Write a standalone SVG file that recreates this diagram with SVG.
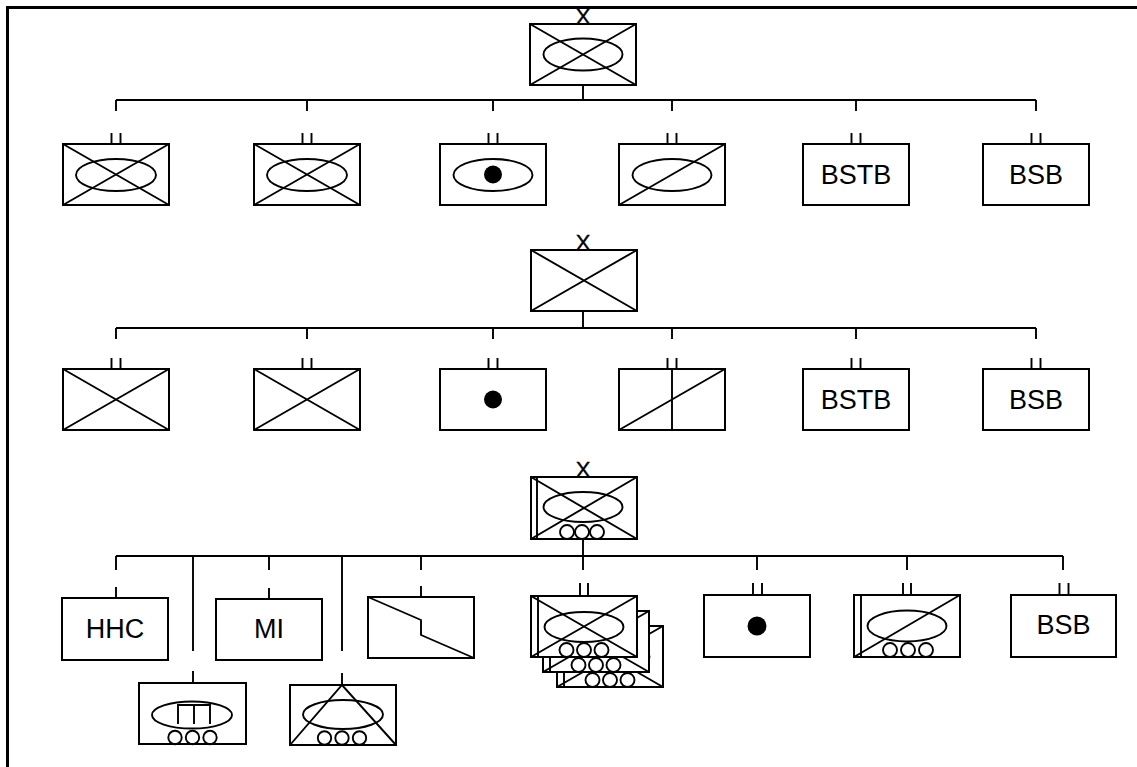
<svg xmlns="http://www.w3.org/2000/svg" width="1137" height="767" viewBox="0 0 1137 767">
<style>
.b{fill:#fff;stroke:#000;stroke-width:2}
.l{fill:none;stroke:#000;stroke-width:1.9}
.c{fill:none;stroke:#000;stroke-width:1.9}
.d{fill:#000}
.t{font-family:"Liberation Sans",Arial,sans-serif;font-size:27px;text-anchor:middle;fill:#000}
.x{font-family:"Liberation Sans",Arial,sans-serif;font-size:22px;text-anchor:middle;fill:#000;stroke:#000;stroke-width:0.4}
</style>
<defs>
<path id="diag" d="M0,0 L106,61 M106,0 L0,61"/>
<g id="arm">
<rect class="b" x="0" y="0" width="106" height="61"/>
<path class="l" d="M7,0 V61"/>
<use href="#diag" class="l"/>
<ellipse class="l" cx="53" cy="31" rx="39.5" ry="15"/>
<circle class="l" cx="35.5" cy="54" r="7"/>
<circle class="l" cx="53" cy="54" r="7"/>
<circle class="l" cx="70.5" cy="54" r="7"/>
</g>
</defs>
<rect x="0" y="0" width="1137" height="767" fill="#fff"/>
<path d="M7.5,767 V7.5 H1137" fill="none" stroke="#000" stroke-width="3"/>

<g id="connectors" class="c">
<path d="M583,85 V100 M116,100 H1036 M116,100 V111 M307,100 V111 M493,100 V111 M672,100 V111 M856,100 V111 M1036,100 V111"/>
<path d="M583,311 V328 M116,328 H1036 M116,328 V339 M307,328 V339 M493,328 V339 M672,328 V339 M856,328 V339 M1036,328 V339"/>
<path d="M583,539 V570 M116,556 H1063 M116,556 V570 M269,556 V570 M421,556 V570 M757,556 V570 M907,556 V570 M1063,556 V570 M193,556 V651 M342,556 V651"/>
</g>

<!-- Row 1 -->
<g id="hq1">
<text class="x" x="583" y="24">X</text>
<rect class="b" x="530" y="24" width="106" height="61"/>
<use href="#diag" class="l" x="530" y="24"/>
<ellipse class="l" cx="583" cy="54.5" rx="39.5" ry="16"/>
</g>
<g id="r1n1" transform="translate(63,144)">
<path class="l" d="M48.5,-11 V0 M57.5,-11 V0"/>
<rect class="b" x="0" y="0" width="106" height="61"/>
<use href="#diag" class="l"/>
<ellipse class="l" cx="53" cy="31" rx="40" ry="16"/>
</g>
<g id="r1n2" transform="translate(254,144)">
<path class="l" d="M48.5,-11 V0 M57.5,-11 V0"/>
<rect class="b" x="0" y="0" width="106" height="61"/>
<use href="#diag" class="l"/>
<ellipse class="l" cx="53" cy="31" rx="40" ry="16"/>
</g>
<g id="r1n3" transform="translate(440,144)">
<path class="l" d="M48.5,-11 V0 M57.5,-11 V0"/>
<rect class="b" x="0" y="0" width="106" height="61"/>
<ellipse class="l" cx="53" cy="31" rx="39.5" ry="16"/>
<circle class="d" cx="53" cy="30.5" r="9"/>
</g>
<g id="r1n4" transform="translate(619,144)">
<path class="l" d="M48.5,-11 V0 M57.5,-11 V0"/>
<rect class="b" x="0" y="0" width="106" height="61"/>
<ellipse class="l" cx="53" cy="31" rx="39.5" ry="16"/>
<path class="l" d="M0,61 L106,0"/>
</g>
<g id="r1n5" transform="translate(803,144)">
<path class="l" d="M48.5,-11 V0 M57.5,-11 V0"/>
<rect class="b" x="0" y="0" width="106" height="61"/>
<text class="t" x="53" y="39.5">BSTB</text>
</g>
<g id="r1n6" transform="translate(983,144)">
<path class="l" d="M48.5,-11 V0 M57.5,-11 V0"/>
<rect class="b" x="0" y="0" width="106" height="61"/>
<text class="t" x="53" y="39.5">BSB</text>
</g>

<!-- Row 2 -->
<g id="hq2">
<text class="x" x="583" y="250">X</text>
<rect class="b" x="531" y="250" width="106" height="61"/>
<use href="#diag" class="l" x="531" y="250"/>
</g>
<g id="r2n1" transform="translate(63,369)">
<path class="l" d="M48.5,-11 V0 M57.5,-11 V0"/>
<rect class="b" x="0" y="0" width="106" height="61"/>
<use href="#diag" class="l"/>
</g>
<g id="r2n2" transform="translate(254,369)">
<path class="l" d="M48.5,-11 V0 M57.5,-11 V0"/>
<rect class="b" x="0" y="0" width="106" height="61"/>
<use href="#diag" class="l"/>
</g>
<g id="r2n3" transform="translate(440,369)">
<path class="l" d="M48.5,-11 V0 M57.5,-11 V0"/>
<rect class="b" x="0" y="0" width="106" height="61"/>
<circle class="d" cx="53" cy="30.5" r="9"/>
</g>
<g id="r2n4" transform="translate(619,369)">
<path class="l" d="M48.5,-11 V0 M57.5,-11 V0"/>
<rect class="b" x="0" y="0" width="106" height="61"/>
<path class="l" d="M0,61 L106,0 M53,0 V61"/>
</g>
<g id="r2n5" transform="translate(803,369)">
<path class="l" d="M48.5,-11 V0 M57.5,-11 V0"/>
<rect class="b" x="0" y="0" width="106" height="61"/>
<text class="t" x="53" y="39.5">BSTB</text>
</g>
<g id="r2n6" transform="translate(983,369)">
<path class="l" d="M48.5,-11 V0 M57.5,-11 V0"/>
<rect class="b" x="0" y="0" width="106" height="61"/>
<text class="t" x="53" y="39.5">BSB</text>
</g>

<!-- Row 3 -->
<g id="hq3">
<text class="x" x="583" y="477">X</text>
<rect class="b" x="531" y="477" width="106" height="62"/>
<path class="l" d="M537,477 V539 M531,477 L637,539 M637,477 L531,539"/>
<ellipse class="l" cx="583" cy="507" rx="39.5" ry="15"/>
<circle class="l" cx="567" cy="532" r="7"/>
<circle class="l" cx="582" cy="532" r="7"/>
<circle class="l" cx="597" cy="532" r="7"/>
</g>
<g id="hhc" transform="translate(62,598)">
<path class="l" d="M54,-11 V0"/>
<rect class="b" x="0" y="0" width="106" height="62"/>
<text class="t" x="53" y="40">HHC</text>
</g>
<g id="mi" transform="translate(216,599)">
<path class="l" d="M53,-11 V0"/>
<rect class="b" x="0" y="0" width="106" height="61"/>
<text class="t" x="53" y="39">MI</text>
</g>
<g id="signal" transform="translate(368,597)">
<path class="l" d="M53,-11 V0"/>
<rect class="b" x="0" y="0" width="106" height="61"/>
<path class="l" d="M0,0 L53,23 V38 L106,61"/>
</g>
<g id="stack" transform="translate(531,596)">
<path class="l" d="M49,-13 V0 M57,-13 V0"/>
<use href="#arm" x="26" y="30"/>
<use href="#arm" x="12" y="15"/>
<use href="#arm" x="0" y="0"/>
</g>
<g id="r3dot" transform="translate(704,595)">
<path class="l" d="M49,-12 V0 M58,-12 V0"/>
<rect class="b" x="0" y="0" width="106" height="62"/>
<circle class="d" cx="53" cy="31" r="9.5"/>
</g>
<g id="r3cav" transform="translate(854,595)">
<path class="l" d="M49,-12 V0 M57,-12 V0"/>
<rect class="b" x="0" y="0" width="106" height="62"/>
<path class="l" d="M7,0 V62"/>
<ellipse class="l" cx="53" cy="31" rx="39.5" ry="15.5"/>
<path class="l" d="M0,62 L106,0"/>
<circle class="l" cx="36" cy="55" r="7"/>
<circle class="l" cx="54" cy="55" r="7"/>
<circle class="l" cx="72" cy="55" r="7"/>
</g>
<g id="r3bsb" transform="translate(1011,595)">
<path class="l" d="M48.5,-12 V0 M57.5,-12 V0"/>
<rect class="b" x="0" y="0" width="105" height="62"/>
<text class="t" x="52.5" y="38.5">BSB</text>
</g>
<g id="eng" transform="translate(139,683)">
<path class="l" d="M54,-12 V0"/>
<rect class="b" x="0" y="0" width="107" height="61"/>
<ellipse class="l" cx="53" cy="32" rx="40" ry="13.5"/>
<path class="l" d="M39,41 V22 H71 V41 M55,22 V41"/>
<circle class="l" cx="36" cy="54.5" r="6.7"/>
<circle class="l" cx="53.5" cy="54.5" r="6.7"/>
<circle class="l" cx="71" cy="54.5" r="6.7"/>
</g>
<g id="fa" transform="translate(290,685)">
<path class="l" d="M52,-12 V0"/>
<rect class="b" x="0" y="0" width="106" height="60"/>
<path class="l" d="M0,60 L52,0 L106,60"/>
<ellipse class="l" cx="53" cy="29.5" rx="40" ry="14.5"/>
<circle class="l" cx="34.5" cy="53" r="6.7"/>
<circle class="l" cx="52" cy="53" r="6.7"/>
<circle class="l" cx="69.5" cy="53" r="6.7"/>
</g>
</svg>
